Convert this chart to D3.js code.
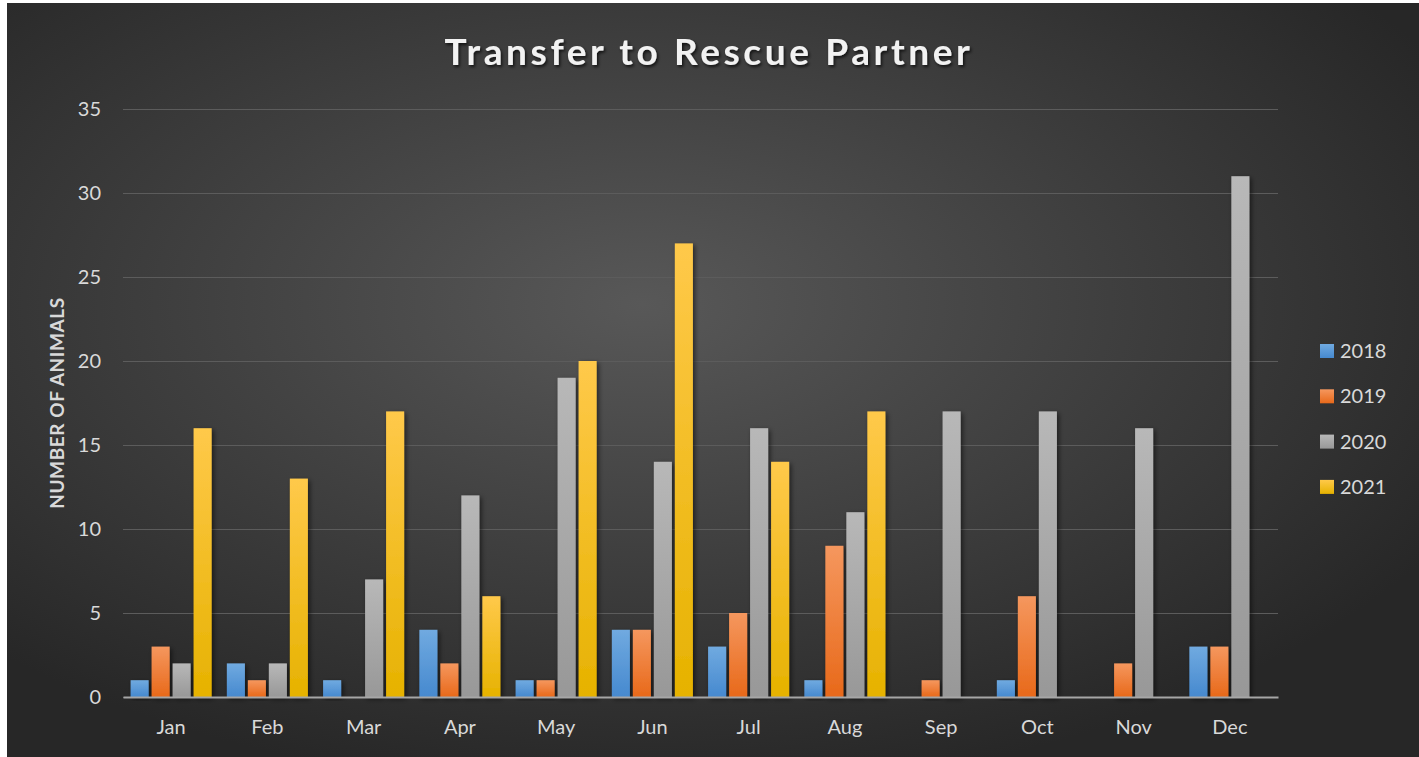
<!DOCTYPE html>
<html lang="en">
<head>
  <meta charset="UTF-8">
  <title>Transfer to Rescue Partner</title>
  <style>
    html, body { margin: 0; padding: 0; background: #fff; }
    svg { display: block; }
  </style>
</head>
<body>
  <script src="https://cdnjs.cloudflare.com/ajax/libs/d3/7.8.5/d3.min.js"></script>
  <svg></svg>
  <script>
    var months = ['Jan', 'Feb', 'Mar', 'Apr', 'May', 'Jun', 'Jul', 'Aug', 'Sep', 'Oct', 'Nov', 'Dec'];
    var years = ['2018', '2019', '2020', '2021'];
    var v2018 = [1, 2, 1, 4, 1, 4, 3, 1, 0, 1, 0, 3];
    var v2019 = [3, 1, 0, 2, 1, 4, 5, 9, 1, 6, 2, 3];
    var v2020 = [2, 2, 7, 12, 19, 14, 16, 11, 17, 17, 16, 31];
    var v2021 = [16, 13, 17, 6, 20, 27, 14, 17, 0, 0, 0, 0];
    var yTicks = [0, 5, 10, 15, 20, 25, 30, 35];

    var series = [v2018, v2019, v2020, v2021];
    var width = 1419, height = 757;
    var plot = {left: 123, right: 1278, top: 109, bottom: 697};
    var font = 'Lato, "Open Sans", sans-serif';

    var svg = d3.select('svg').attr('width', width).attr('height', height);
    var defs = svg.append('defs');

    // background gradient
    var bg = defs.append('radialGradient').attr('id', 'bg')
      .attr('cx', '0.45').attr('cy', '0.4').attr('r', '0.65');
    bg.append('stop').attr('offset', '0%').attr('stop-color', '#585858');
    bg.append('stop').attr('offset', '100%').attr('stop-color', '#272727');

    var colors = [
      ['#70aae0', '#4689cf'],
      ['#f5975e', '#e8691a'],
      ['#b8b8b8', '#989898'],
      ['#ffc94a', '#e6b200']
    ];
    colors.forEach(function(c, i) {
      var g = defs.append('linearGradient').attr('id', 'g' + i)
        .attr('x1', 0).attr('y1', 0).attr('x2', 0).attr('y2', 1);
      g.append('stop').attr('offset', '0%').attr('stop-color', c[0]);
      g.append('stop').attr('offset', '100%').attr('stop-color', c[1]);
    });

    var shadow = defs.append('filter').attr('id', 'shadow')
      .attr('x', '-50%').attr('y', '-10%').attr('width', '200%').attr('height', '130%');
    shadow.append('feDropShadow').attr('dx', 2).attr('dy', 2).attr('stdDeviation', 2.5)
      .attr('flood-color', '#000').attr('flood-opacity', 0.55);

    var tshadow = defs.append('filter').attr('id', 'tshadow');
    tshadow.append('feDropShadow').attr('dx', 1.5).attr('dy', 2).attr('stdDeviation', 1.5)
      .attr('flood-color', '#000').attr('flood-opacity', 0.7);

    svg.append('rect')
      .attr('x', 7).attr('y', 3).attr('width', width - 7).attr('height', height - 3)
      .attr('fill', 'url(#bg)');

    // scales
    var x0 = d3.scaleBand().domain(months).range([plot.left, plot.right])
      .paddingInner(0.158).paddingOuter(0.079);
    var x1 = d3.scaleBand().domain(years).range([0, x0.bandwidth()]).paddingInner(0.14);
    var y = d3.scaleLinear().domain([0, 35]).range([plot.bottom, plot.top]);

    // gridlines
    svg.append('g')
      .attr('transform', 'translate(' + plot.left + ',0)')
      .call(d3.axisLeft(y).tickValues(yTicks).tickSize(-(plot.right - plot.left)).tickFormat(''))
      .call(function(g) {
        g.select('.domain').remove();
        g.selectAll('line').attr('stroke', '#5c5c5c').attr('stroke-width', 1.2);
      });

    // y axis labels
    svg.append('g')
      .attr('transform', 'translate(' + (plot.left - 19) + ',0)')
      .call(d3.axisLeft(y).tickValues(yTicks).tickSize(0))
      .call(function(g) {
        g.select('.domain').remove();
        g.selectAll('text').attr('fill', '#d9d9d9').style('font-family', font)
          .style('font-size', '20px').attr('dy', '0.33em');
      });

    // bars
    var groups = svg.append('g').selectAll('g')
      .data(months).enter().append('g')
      .attr('transform', function(m) { return 'translate(' + x0(m) + ',0)'; });

    groups.selectAll('rect')
      .data(function(m, i) {
        return years.map(function(yr, k) { return {year: yr, k: k, value: series[k][i]}; });
      })
      .enter().filter(function(d) { return d.value > 0; })
      .append('rect')
        .attr('x', function(d) { return x1(d.year); })
        .attr('y', function(d) { return y(d.value); })
        .attr('width', x1.bandwidth())
        .attr('height', function(d) { return y(0) - y(d.value); })
        .attr('fill', function(d) { return 'url(#g' + d.k + ')'; })
        .attr('filter', 'url(#shadow)');

    // x axis
    svg.append('g')
      .attr('transform', 'translate(0,' + plot.bottom + ')')
      .call(d3.axisBottom(x0).tickSize(0).tickPadding(23))
      .call(function(g) {
        g.select('.domain').attr('stroke', '#a6a6a6').attr('stroke-width', 2.2);
        g.selectAll('text').attr('fill', '#d9d9d9').style('font-family', font)
          .style('font-size', '20px');
      });

    // y axis title
    svg.append('text')
      .attr('transform', 'translate(64,' + ((plot.top + plot.bottom) / 2) + ') rotate(-90)')
      .attr('text-anchor', 'middle')
      .attr('fill', '#d9d9d9')
      .style('font-family', font).style('font-size', '19px').style('font-weight', 'bold')
      .style('letter-spacing', '0.6px')
      .text('NUMBER OF ANIMALS');

    // title
    svg.append('text')
      .attr('x', 709).attr('y', 65)
      .attr('text-anchor', 'middle')
      .attr('fill', '#f2f2f2')
      .attr('filter', 'url(#tshadow)')
      .style('font-family', font).style('font-size', '37px').style('font-weight', 'bold')
      .style('letter-spacing', '3.6px')
      .text('Transfer to Rescue Partner');

    // legend
    var legend = svg.append('g').selectAll('g')
      .data(years).enter().append('g')
      .attr('transform', function(d, i) { return 'translate(1320,' + (351 + i * 45.3) + ')'; });
    legend.append('rect')
      .attr('x', 0).attr('y', -7).attr('width', 14).attr('height', 14)
      .attr('fill', function(d, i) { return 'url(#g' + i + ')'; });
    legend.append('text')
      .attr('x', 20).attr('dy', '0.35em')
      .attr('fill', '#d9d9d9')
      .style('font-family', font).style('font-size', '20px')
      .text(function(d) { return d; });
  </script>
</body>
</html>
